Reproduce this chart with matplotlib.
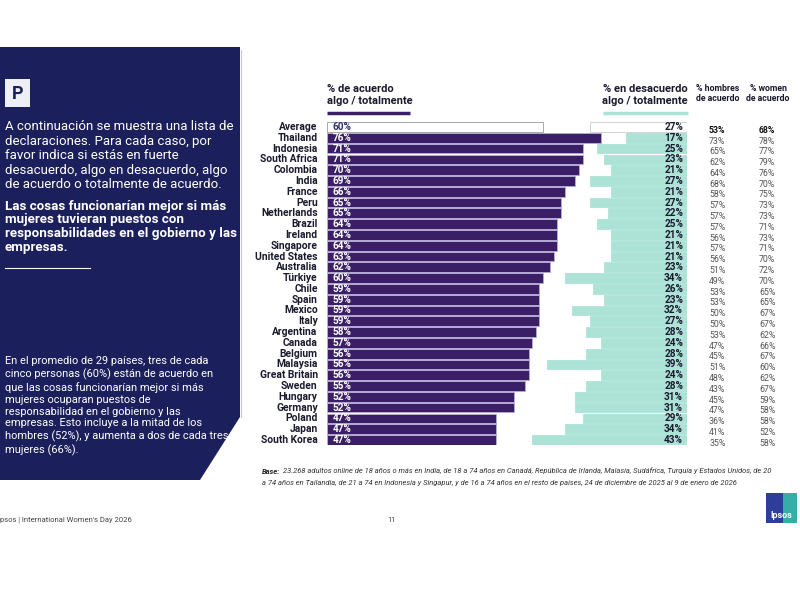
import matplotlib.pyplot as plt
from matplotlib.patches import Polygon, Rectangle

plt.rcParams['font.family'] = ['Roboto', 'DejaVu Sans']

# datos
paises = ['Average', 'Thailand', 'Indonesia', 'South Africa', 'Colombia', 'India', 'France',
          'Peru', 'Netherlands', 'Brazil', 'Ireland', 'Singapore', 'United States', 'Australia',
          'Türkiye', 'Chile', 'Spain', 'Mexico', 'Italy', 'Argentina', 'Canada', 'Belgium',
          'Malaysia', 'Great Britain', 'Sweden', 'Hungary', 'Germany', 'Poland', 'Japan',
          'South Korea']
acuerdo = [60, 76, 71, 71, 70, 69, 66, 65, 65, 64, 64, 64, 63, 62, 60, 59, 59, 59, 59, 58,
           57, 56, 56, 56, 55, 52, 52, 47, 47, 47]
desacuerdo = [27, 17, 25, 23, 21, 27, 21, 27, 22, 25, 21, 21, 21, 23, 34, 26, 23, 32, 27, 28,
              24, 28, 39, 24, 28, 31, 31, 29, 34, 43]
hombres = [53, 73, 65, 62, 64, 68, 58, 57, 57, 57, 56, 57, 56, 51, 49, 53, 53, 50, 50, 53,
           47, 45, 51, 48, 43, 45, 47, 36, 41, 35]
mujeres = [68, 78, 77, 79, 76, 70, 75, 73, 73, 71, 73, 71, 70, 72, 70, 65, 65, 67, 67, 62,
           66, 67, 60, 62, 67, 59, 58, 58, 52, 58]

morado = '#3b1f66'
verde = '#ade3d7'
azul = '#1b1f5c'

fig = plt.figure(figsize=(8, 6), dpi=100)

# fondo / panel izquierdo en coordenadas de pixel
bg = fig.add_axes([0, 0, 1, 1])
bg.set_xlim(0, 800)
bg.set_ylim(600, 0)
bg.axis('off')
bg.add_patch(Polygon([(0, 47), (240, 47), (240, 417), (200, 480), (0, 480)],
                     closed=True, facecolor=azul, edgecolor='none'))
bg.plot([241, 241], [50, 417], color='#c9c3e3', lw=0.8)
bg.add_patch(Rectangle((5, 79), 25, 28, facecolor='#eef0f6', edgecolor='none'))
bg.text(17.5, 94, 'P', color=azul, fontsize=13, fontweight='bold', ha='center', va='center')

texto1 = ('A continuación se muestra una lista de\n'
          'declaraciones. Para cada caso, por\n'
          'favor indica si estás en fuerte\n'
          'desacuerdo, algo en desacuerdo, algo\n'
          'de acuerdo o totalmente de acuerdo.')
bg.text(5, 120, texto1, color='white', fontsize=9.5, va='top', ha='left', linespacing=1.16)

texto2 = ('Las cosas funcionarían mejor si más\n'
          'mujeres tuvieran puestos con\n'
          'responsabilidades en el gobierno y las\n'
          'empresas.')
bg.text(5, 200, texto2, color='white', fontsize=9.6, fontweight='bold', va='top', ha='left',
        linespacing=1.05)
bg.plot([5, 90], [268, 268], color='white', lw=0.8)

texto3 = ('En el promedio de 29 países, tres de cada\n'
          'cinco personas (60%) están de acuerdo en\n'
          'que las cosas funcionarían mejor si más\n'
          'mujeres ocuparan puestos de\n'
          'responsabilidad en el gobierno y las\n'
          'empresas. Esto incluye a la mitad de los\n'
          'hombres (52%), y aumenta a dos de cada tres\n'
          'mujeres (66%).')
bg.text(5, 356, texto3, color='white', fontsize=7.9, va='top', ha='left', linespacing=1.24)

# encabezados
bg.text(327, 84, '% de acuerdo\nalgo / totalmente', fontsize=8, fontweight='bold',
        color='#1a1a2e', va='top', ha='left', linespacing=1.2)
bg.plot([327, 410], [113, 113], color=morado, lw=2.5, solid_capstyle='butt')
bg.text(688, 84, '% en desacuerdo\nalgo / totalmente', fontsize=8, fontweight='bold',
        color='#1a1a2e', va='top', ha='right', linespacing=1.2)
bg.plot([603, 688], [113, 113], color=verde, lw=2.5, solid_capstyle='butt')
bg.text(718, 84, '% hombres\nde acuerdo', fontsize=6.3, fontweight='bold',
        color='#1a1a2e', va='top', ha='center', linespacing=1.1)
bg.text(768, 84, '% women\nde acuerdo', fontsize=6.3, fontweight='bold',
        color='#1a1a2e', va='top', ha='center', linespacing=1.1)

# nota de base
bg.text(262, 471, 'Base:', fontsize=5.45, style='italic', fontweight='bold', color='#222222',
        va='center', ha='left')
bg.text(283, 471, '23.268 adultos online de 18 años o más en India, de 18 a 74 años '
        'en Canadá, República de Irlanda, Malasia, Sudáfrica, Turquía y Estados Unidos, de 20',
        fontsize=5.45, style='italic', color='#333333', va='center', ha='left')
bg.text(262, 483, 'a 74 años en Tailandia, de 21 a 74 en Indonesia y Singapur, y de 16 a 74 años '
        'en el resto de países, 24 de diciembre de 2025 al 9 de enero de 2026',
        fontsize=5.45, style='italic', color='#333333', va='center', ha='left')

# pie de página
bg.text(0, 520, 'psos | International Women\'s Day 2026', fontsize=5.5, color='#444444',
        va='center', ha='left')
bg.text(392, 520, '11', fontsize=5.5, color='#444444', va='center', ha='center')

# logo
bg.add_patch(Rectangle((766, 493), 31, 30, facecolor='#2c3e98', edgecolor='none'))
bg.add_patch(Rectangle((783, 493), 14, 30, facecolor='#35aea6', edgecolor='none'))
bg.text(781.5, 515, 'Ipsos', color='white', fontsize=6.5, fontweight='bold',
        ha='center', va='center')

# grafico de barras
ax = fig.add_axes([327 / 800, 1 - 445.4 / 600, 360 / 800, 323.8 / 600])
y = list(range(len(paises)))
colores = ['white'] + [morado] * (len(paises) - 1)
bordes = ['#9a9a9a'] + ['#b6acd6'] * (len(paises) - 1)
ax.barh(y, acuerdo, height=0.9, color=colores, edgecolor=bordes, linewidth=0.6)
colores2 = ['white'] + [verde] * (len(paises) - 1)
bordes2 = ['#cccccc'] + [verde] * (len(paises) - 1)
izq = [100 - d for d in desacuerdo]
ax.barh(y, desacuerdo, left=izq, height=0.9, color=colores2, edgecolor=bordes2, linewidth=0.6)
ax.set_xlim(0, 100)
ax.set_ylim(len(paises) - 0.5, -0.5)
ax.axis('off')

for i, p in enumerate(paises):
    ax.text(-2.6, i, p, ha='right', va='center', fontsize=7.4, fontweight='bold',
            color='#1a1a2e')
    c = '#2b2f6b' if i == 0 else 'white'
    ax.text(1.6, i, f'{acuerdo[i]}%', ha='left', va='center', fontsize=7.2,
            fontweight='bold', color=c)
    ax.text(98.9, i, f'{desacuerdo[i]}%', ha='right', va='center', fontsize=7.2,
            fontweight='bold', color='#1a1a2e')
    peso = 'bold' if i == 0 else 'normal'
    cc = '#111111' if i == 0 else '#555555'
    ax.text(108.4, i + 0.3, f'{hombres[i]}%', ha='center', va='center', fontsize=6.3,
            fontweight=peso, color=cc, clip_on=False)
    ax.text(122.3, i + 0.3, f'{mujeres[i]}%', ha='center', va='center', fontsize=6.3,
            fontweight=peso, color=cc, clip_on=False)

fig.savefig('out.png', dpi=100)
